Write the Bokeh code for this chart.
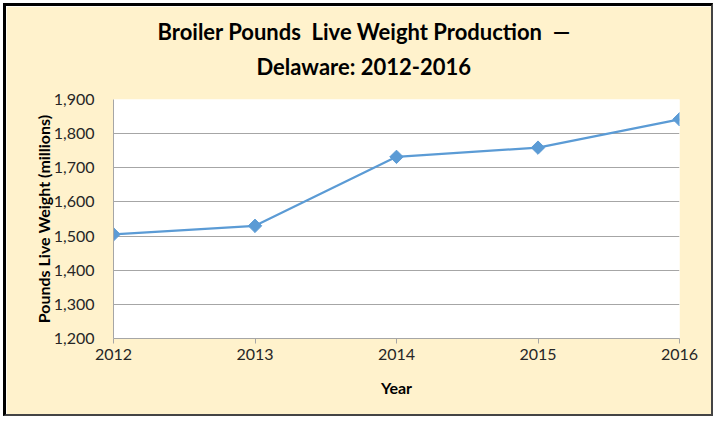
from bokeh.plotting import figure
from bokeh.models import Range1d, FixedTicker, NumeralTickFormatter, Title
from bokeh.embed import file_html
from bokeh.resources import INLINE
import math

years = [2012, 2013, 2014, 2015, 2016]
production = [1505, 1530, 1732, 1759, 1842]
y_ticks = [1200, 1300, 1400, 1500, 1600, 1700, 1800, 1900]
title_lines = ["Broiler Pounds\u00a0 Live Weight Production\u00a0 \u2014", "Delaware: 2012-2016"]

FONT = "Lato"
BG = "#FFF2CC"
LINE = "#5B9BD5"
GRID = "#A6A6A6"

p = figure(width=710, height=413, output_backend="svg", toolbar_location=None,
           x_range=Range1d(2012, 2016), y_range=Range1d(1200, 1900), title=None,
           min_border_left=107, min_border_right=37, min_border_top=93, min_border_bottom=81)
p.styles = {"margin-left": "3px", "margin-top": "3px",
            "border-left": "3px solid black", "border-top": "3px solid black",
            "border-right": "2px solid #444444", "border-bottom": "2px solid #444444"}
p.background_fill_color = "white"
p.border_fill_color = BG
p.outline_line_color = None

p.add_layout(Title(text=title_lines[1], align="left", offset=143, text_font=FONT,
                   text_font_size="22px", text_font_style="bold", text_color="black", standoff=39), "above")
p.add_layout(Title(text=title_lines[0], align="left", offset=44, text_font=FONT,
                   text_font_size="22px", text_font_style="bold", text_color="black", standoff=-26), "above")

p.line(years, production, line_color=LINE, line_width=2.2)
p.scatter(years, production, marker="square", angle=math.pi / 4, size=9.5,
          fill_color=LINE, line_color=LINE)

p.xgrid.grid_line_color = None
p.ygrid.grid_line_color = GRID
p.ygrid.grid_line_width = 1
p.ygrid.ticker = FixedTicker(ticks=y_ticks)

p.xaxis.ticker = FixedTicker(ticks=years)
p.xaxis.axis_label = "Year"
p.yaxis.ticker = FixedTicker(ticks=y_ticks)
p.yaxis.formatter = NumeralTickFormatter(format="0,0")
p.yaxis.axis_label = "Pounds Live Weight (millions)"

for ax in (p.xaxis[0], p.yaxis[0]):
    ax.axis_line_color = GRID
    ax.major_label_text_font = FONT
    ax.major_label_text_font_size = "16px"
    ax.major_label_text_color = "#262626"
    ax.axis_label_text_font = FONT
    ax.axis_label_text_font_style = "bold"
    ax.axis_label_text_color = "black"
    ax.axis_label_text_font_size = "16px"
    ax.minor_tick_line_color = None

p.xaxis.major_tick_line_color = GRID
p.xaxis.major_tick_out = 5
p.xaxis.major_tick_in = 0
p.xaxis.major_label_standoff = 5
p.xaxis.axis_label_standoff = 15
p.yaxis.major_tick_line_color = None
p.yaxis.major_label_standoff = 13
p.yaxis.axis_label_standoff = -2

open("out.html", "w").write(file_html(p, INLINE))
